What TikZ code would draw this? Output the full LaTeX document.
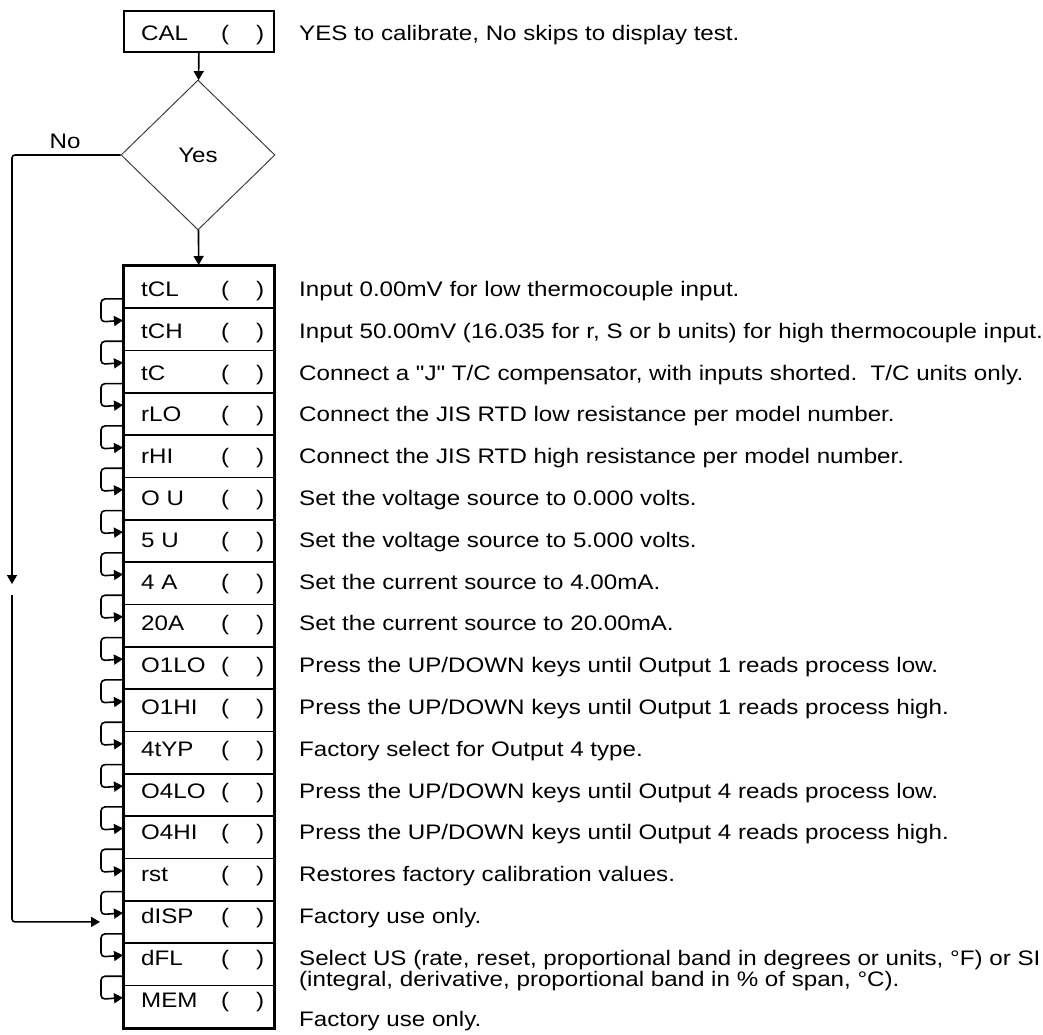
\documentclass[tikz,border=0pt]{standalone}
\usepackage{fontspec}
\setmainfont[FakeStretch=1.15,Ligatures=TeXOff]{Liberation Sans}
\usetikzlibrary{arrows.meta,shapes.geometric}

\begin{document}
\begin{tikzpicture}[x=1pt,y=-1pt,
    txt/.style={inner sep=0pt,anchor=base west,font=\fontsize{21}{21}\selectfont},
    row/.style={draw,line width=1.6pt,minimum width=150pt,minimum height=42.33pt,inner sep=0pt,anchor=north west},
    arr/.style={line width=1.6pt,-{Triangle[length=9pt,width=10pt]}},
    hook/.style={line width=1.6pt,rounded corners=4pt,-{Triangle[length=9pt,width=10pt]}}]
    \useasboundingbox (0,0) rectangle (1043,1034);
    \node[row,line width=2pt,minimum height=41pt] (cal) at (123,10) {};
    \node[txt] (callab) at (141,40.5) {CAL};
    \node[txt] (calpar) at (221,40.5) {(\hskip 27pt)};
    \node[txt] (caldesc) at (299,40.5) {YES to calibrate, No skips to display test.};
    \node[draw,shape=diamond,line width=1pt,draw=black!75,minimum width=154pt,minimum height=150pt,inner sep=0pt,font=\fontsize{21}{21}\selectfont] (dec) at (198,155) {Yes};
    \node[txt,anchor=base] (nolab) at (65,148) {No};
    \foreach \i/\lab in {0/tCL, 1/tCH, 2/tC, 3/rLO, 4/rHI, 5/O U, 6/5 U, 7/4 A, 8/20A,
        9/O1LO, 10/O1HI, 11/4tYP, 12/O4LO, 13/O4HI, 14/rst, 15/dISP, 16/dFL, 17/MEM} {
        \node[row] (r\i) at (123,265+42.33*\i) {};
        \node[txt] (lab\i) at (141,296.5+41.8*\i) {\lab};
        \node[txt] (par\i) at (221,296.5+41.8*\i) {(\hskip 27pt)};
    }
    \draw[line width=2pt] (r0.north west) rectangle (r17.south east);
    \foreach \i/\dy/\desc [count=\k] in {
        0/0/{Input 0.00mV for low thermocouple input.},
        1/0/{Input 50.00mV (16.035 for r, S or b units) for high thermocouple input.},
        2/0/{Connect a "J" T/C compensator, with inputs shorted.\ \ T/C units only.},
        3/0/{Connect the JIS RTD low resistance per model number.},
        4/0/{Connect the JIS RTD high resistance per model number.},
        5/0/{Set the voltage source to 0.000 volts.},
        6/0/{Set the voltage source to 5.000 volts.},
        7/0/{Set the current source to 4.00mA.},
        8/0/{Set the current source to 20.00mA.},
        9/0/{Press the UP/DOWN keys until Output 1 reads process low.},
        10/0/{Press the UP/DOWN keys until Output 1 reads process high.},
        11/0/{Factory select for Output 4 type.},
        12/0/{Press the UP/DOWN keys until Output 4 reads process low.},
        13/0/{Press the UP/DOWN keys until Output 4 reads process high.},
        14/0/{Restores factory calibration values.},
        15/0/{Factory use only.},
        16/0/{Select US (rate, reset, proportional band in degrees or units, °F) or SI},
        16/21/{(integral, derivative, proportional band in \% of span, °C).},
        17/19/{Factory use only.}} {
        \node[txt] (desc\k) at (299,296.5+41.8*\i+\dy) {\desc};
    }
    \draw[arr] (cal) -- (dec);
    \draw[arr] (dec) -- (r0);
    \foreach \i [evaluate=\i as \j using int(\i-1)] in {1,...,17} {
        \draw[hook] ([yshift=10pt]r\j.south west) -- ++(-22,0) -- ++(0,23) -- ([yshift=-13pt]r\i.north west);
    }
    \coordinate (gapa) at (12,584);
    \coordinate (gapb) at (12,595);
    \draw[arr,rounded corners=3pt] (dec.west) -| (gapa);
    \draw[arr,rounded corners=3pt] (gapb) |- ([xshift=-23pt]r15.west);
\end{tikzpicture}
\end{document}
